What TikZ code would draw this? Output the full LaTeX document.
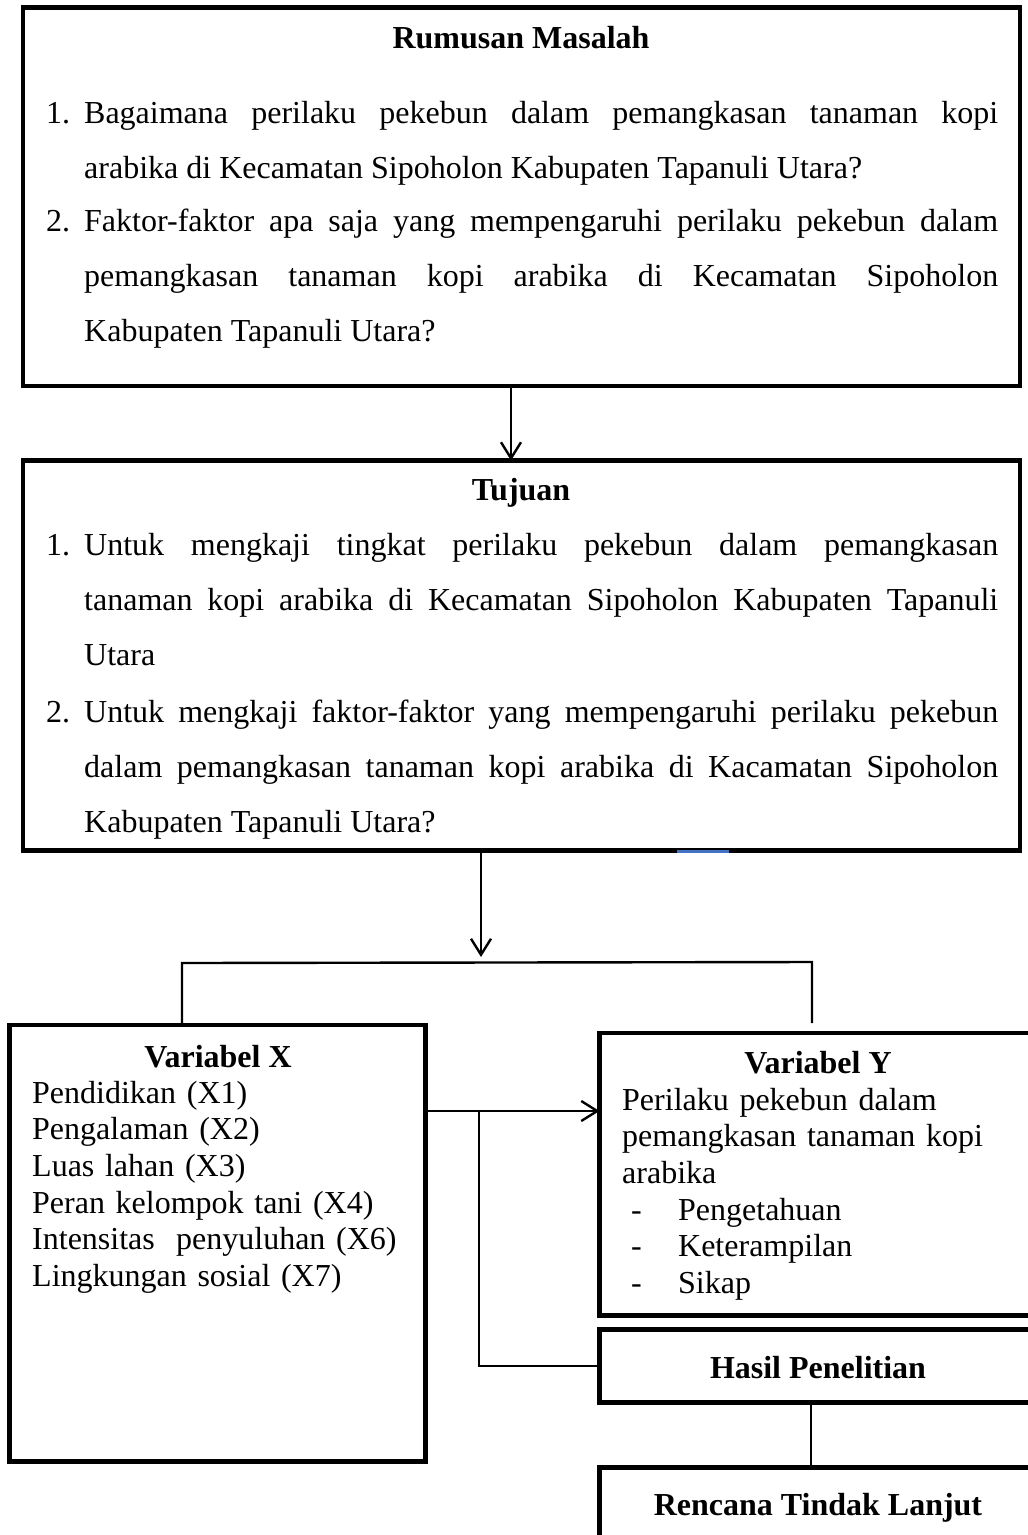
\documentclass[tikz,border=0pt]{standalone}
\usepackage{fontspec}
\setmainfont{Liberation Serif}
\usetikzlibrary{arrows.meta}

\definecolor{markblue}{RGB}{68,114,196}

\tolerance=10000
\hyphenpenalty=10000
\exhyphenpenalty=10000

\newcommand{\numitem}[2]{\hangindent=38pt\hangafter=1\noindent\rule{0pt}{28pt}\makebox[38pt][l]{#1}#2\par}
\newcommand{\dashitem}[1]{\hspace*{9pt}\makebox[47pt][l]{-}#1}

\tikzset{
  boxframe/.style={draw, line width=4.8pt, rectangle, anchor=north west, inner sep=0pt, outer sep=0pt},
  head/.style={anchor=base, inner sep=0pt, font=\fontsize{32}{36}\selectfont\bfseries},
  body/.style={anchor=north west, inner sep=0pt, align=justify, text width=952pt, font=\fontsize{32}{55}\selectfont},
  items/.style={anchor=north west, inner sep=0pt, align=left, font=\fontsize{32}{36.6}\selectfont},
  link/.style={line width=2.4pt},
  flow/.style={link, -{Straight Barb[length=16pt, width=20pt]}},
}

\begin{document}
\begin{tikzpicture}[x=1pt, y=-1pt]
\useasboundingbox (0,0) rectangle (1028,1535);
\clip (0,0) rectangle (1028,1535);

% Boxes
\node[boxframe, minimum width=997pt, minimum height=378.5pt] (rumusan) at (23,7.5) {};
\node[boxframe, minimum width=997pt, minimum height=390pt] (tujuan) at (23,460.5) {};
\node[boxframe, minimum width=416pt, minimum height=436.5pt] (varx) at (9.5,1025) {};
\node[boxframe, minimum width=440.5pt, minimum height=282.5pt] (vary) at (599.5,1033) {};
\node[boxframe, minimum width=440.5pt, minimum height=73pt] (hasil) at (599.5,1329.5) {};
\node[boxframe, minimum width=440.5pt, minimum height=150pt] (rencana) at (599.5,1467.5) {};

% Texts
\node[head] (rumusantitle) at (521,48) {Rumusan Masalah};
\node[body] (rumusanone) at (46,95) {\numitem{1.}{Bagaimana perilaku pekebun dalam pemangkasan tanaman kopi\linebreak arabika di Kecamatan Sipoholon Kabupaten Tapanuli Utara?}};
\node[body] (rumusantwo) at (46,203) {\numitem{2.}{Faktor-faktor apa saja yang mempengaruhi perilaku pekebun dalam\linebreak pemangkasan tanaman kopi arabika di Kecamatan Sipoholon\linebreak Kabupaten Tapanuli Utara?}};

\node[head] (tujuantitle) at (521,500) {Tujuan};
\node[body] (tujuanone) at (46,527) {\numitem{1.}{Untuk mengkaji tingkat perilaku pekebun dalam pemangkasan\linebreak tanaman kopi arabika di Kecamatan Sipoholon Kabupaten Tapanuli\linebreak Utara}};
\node[body] (tujuantwo) at (46,694) {\numitem{2.}{Untuk mengkaji faktor-faktor yang mempengaruhi perilaku pekebun\linebreak dalam pemangkasan tanaman kopi arabika di Kacamatan Sipoholon\linebreak Kabupaten Tapanuli Utara?}};

\node[head] (varxtitle) at (218,1067) {Variabel X};
\node[items, text width=390pt] (varxlist) at (32,1075) {\rule{0pt}{28pt}Pendidikan (X1)\\
Pengalaman (X2)\\
Luas lahan (X3)\\
Peran kelompok tani (X4)\\
Intensitas\ \ penyuluhan (X6)\\
Lingkungan sosial (X7)};

\node[head] (varytitle) at (818,1073) {Variabel Y};
\node[items, text width=400pt] (varylist) at (622,1082) {\rule{0pt}{28pt}Perilaku pekebun dalam\\
pemangkasan tanaman kopi\\
arabika\\
\dashitem{Pengetahuan}\\
\dashitem{Keterampilan}\\
\dashitem{Sikap}};

\node[head] (hasiltitle) at (818,1378) {Hasil Penelitian};
\node[head] (rencanatitle) at (818,1515) {Rencana Tindak Lanjut};

% Connectors
\coordinate (split) at (481,957);
\coordinate (forkl) at (182,963);
\coordinate (forkr) at (812,962);
\coordinate (forkend) at (812,1023);
\coordinate (xy) at (0,1111);
\coordinate (tap) at (479,1111);

\draw[flow] ([xshift=-10.5pt]rumusan.south) -- ([xshift=-10.5pt]tujuan.north);
\draw[flow] (tujuan.south -| split) -- (split);
\draw[link] (varx.north -| forkl) -- (forkl) -- (forkr) -- (forkend);
\draw[flow] (varx.east |- xy) -- (vary.west |- xy);
\draw[link] (tap) |- (hasil.west);
\draw[link] ([xshift=-8.75pt]hasil.south) -- ([xshift=-8.75pt]rencana.north);

% stray mark on the Tujuan border
\draw[line width=3pt, markblue] (677,851) -- (729,851);
\end{tikzpicture}
\end{document}
